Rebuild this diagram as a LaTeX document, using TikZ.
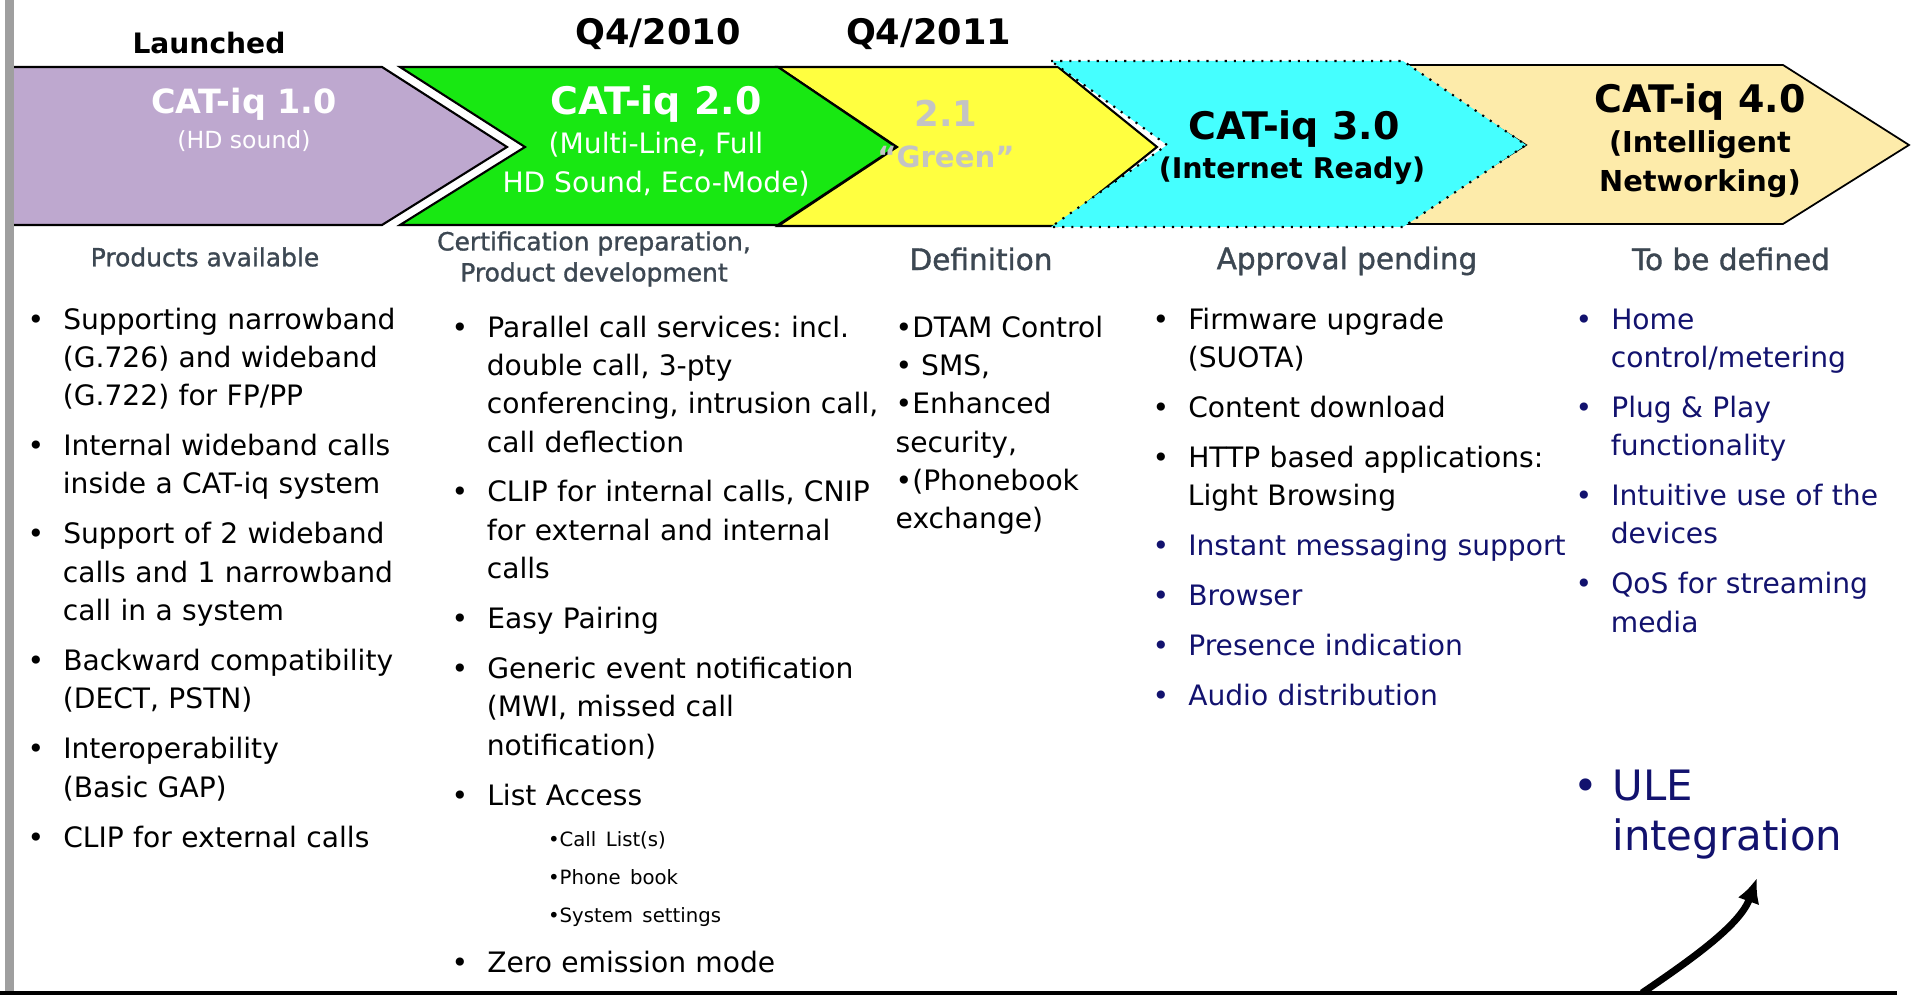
\documentclass[tikz,border=0pt]{standalone}
\usepackage{fontspec}
\setmainfont{DejaVu Sans}
\newfontfamily\headfont[FakeBold=1.2]{DejaVu Sans}
\usepackage{tikz}
\usetikzlibrary{shapes,arrows,arrows.meta}
\usetikzlibrary{positioning}
\frenchspacing
\definecolor{catpurple}{HTML}{BEA8CF}
\definecolor{catgreen}{HTML}{18E812}
\definecolor{catyellow}{HTML}{FFFF40}
\definecolor{catcyan}{HTML}{45FFFF}
\definecolor{catbeige}{HTML}{FDEBAA}
\definecolor{headgray}{HTML}{3C4752}
\definecolor{catnavy}{HTML}{12126E}
\definecolor{greengray}{HTML}{C4C4C4}
\tikzstyle{chevron} = [draw, line width=0.6pt, line join=miter]
\tikzstyle{phase} = [text=headgray, align=center, inner sep=0pt,
font=\headfont\fontsize{7.1}{8.8}\selectfont]
\tikzstyle{itemcol} = [anchor=north west, inner sep=0pt,
font=\fontsize{8}{10.9}\selectfont]
\tikzstyle{ulearrow} = [draw, -{Latex[length=7pt, width=6.5pt]}, line width=2pt]
\newenvironment{catlist}{%
  \begin{list}{\textbullet}{%
    \setlength{\topsep}{0pt}\setlength{\partopsep}{0pt}%
    \setlength{\parsep}{0pt}\setlength{\itemsep}{3.3pt}%
    \setlength{\labelwidth}{4.6pt}\setlength{\labelsep}{5.4pt}%
    \setlength{\leftmargin}{10pt}\setlength{\itemindent}{0pt}}}%
  {\end{list}}
\newcommand{\navyitem}[1]{\item[\textcolor{catnavy}{\textbullet}]\textcolor{catnavy}{#1}}
\newcommand{\subfont}{\fontsize{5.6}{7}\selectfont}

\begin{document}
\begin{tikzpicture}[x=0.01cm, y=-0.01cm,
	catnum/.style={font=\bfseries\fontsize{10.8}{13}\selectfont, inner sep=0pt},
	catsub/.style={align=center, inner sep=0pt}]
	\useasboundingbox (0,0) rectangle (1911,995);
	%% Phases
	\path [chevron, fill=catyellow] (778,67) -- (1058,67) -- (1157,147) -- (1058,226) -- (778,226) -- (897,147) -- cycle;
	\path [chevron, fill=catgreen] (400,67) -- (778,67) -- (896,147) -- (778,225) -- (400,225) -- (525,147) -- cycle;
	\path [chevron, fill=catpurple] (7,67) -- (382,67) -- (507,147) -- (382,225) -- (7,225) -- cycle;
	\path [chevron, fill=catbeige, line width=0.5pt] (1400,65) -- (1783,65) -- (1909,145) -- (1783,224) -- (1400,224) -- (1526,145) -- cycle;
	\path [chevron, fill=catcyan, dotted] (1051,61) -- (1403,61) -- (1526,145) -- (1403,227) -- (1051,227) -- (1167,145) -- cycle;
	\fill [gray!75] (5,0) rectangle (14,992);
	\fill [black] (0,991) rectangle (1897,995);
	%% Titles
	\node [catnum, text=white, font=\bfseries\fontsize{9.5}{11}\selectfont] (cat1) at (244,104) {CAT-iq 1.0};
	\node [catsub, text=white, font=\fontsize{6.7}{8}\selectfont] (cat1sub) at (244,141) {(HD sound)};
	\node [catnum, text=white] (cat2) at (656,104) {CAT-iq 2.0};
	\node [catsub, text=white, font=\fontsize{8}{11.1}\selectfont] (cat2sub) at (656,164) {(Multi-Line, Full\\HD Sound, Eco-Mode)};
	\node [catnum, text=greengray, font=\bfseries\fontsize{10.1}{12}\selectfont] (cat21) at (946,113) {2.1};
	\node [catsub, text=greengray, font=\bfseries\fontsize{8.3}{10}\selectfont] (cat21sub) at (946,157) {“Green”};
	\node [catnum] (cat3) at (1294,129) {CAT-iq 3.0};
	\node [catsub, font=\bfseries\fontsize{8.1}{10}\selectfont] (cat3sub) at (1292,171) {(Internet Ready)};
	\node [catnum] (cat4) at (1700,102) {CAT-iq 4.0};
	\node [catsub, font=\bfseries\fontsize{8.2}{11.1}\selectfont] (cat4sub) at (1700,164) {(Intelligent\\Networking)};
	%% Dates
	\node [inner sep=0pt, font=\bfseries\fontsize{8}{10}\selectfont] (launched) at (209,43) {Launched};
	\node [inner sep=0pt, font=\bfseries\fontsize{10}{12}\selectfont] (q10) at (658,34) {Q4/2010};
	\node [inner sep=0pt, font=\bfseries\fontsize{10}{12}\selectfont, right=29.6pt of q10] (q11) {Q4/2011};
	%% Status
	\node [phase] (prod) at (205,257) {Products available};
	\node [phase] (cert) at (594,259) {Certification preparation,\\Product development};
	\node [phase, font=\headfont\fontsize{8.4}{10}\selectfont] (defn) at (981,259) {Definition};
	\node [phase, font=\headfont\fontsize{8.4}{10}\selectfont] (appr) at (1347,261) {Approval pending};
	\node [phase, font=\headfont\fontsize{8.4}{10}\selectfont] (tbd) at (1731,259) {To be defined};
	%% Features
	\node [itemcol, text width=3.9cm] (col1) at (27,290) {\begin{catlist}
		\item Supporting narrowband\\(G.726) and wideband\\(G.722) for FP/PP
		\item Internal wideband calls\\inside a CAT-iq system
		\item Support of 2 wideband\\calls and 1 narrowband\\call in a system
		\item Backward compatibility\\(DECT, PSTN)
		\item Interoperability\\(Basic GAP)
		\item CLIP for external calls
	\end{catlist}};
	\node [itemcol, text width=4.4cm] (col2) at (451,298) {\begin{catlist}
		\item Parallel call services: incl.\\double call, 3-pty\\conferencing, intrusion call,\\call deflection
		\item CLIP for internal calls, CNIP\\for external and internal\\calls
		\item Easy Pairing
		\item Generic event notification\\(MWI, missed call\\notification)
		\item List Access\\[0.8pt]
		\hspace*{17.4pt}{\subfont\textbullet Call List(s)}\\
		\hspace*{17.4pt}{\subfont\textbullet Phone book}\\
		\hspace*{17.4pt}{\subfont\textbullet System settings}
		\item Zero emission mode
	\end{catlist}};
	\node [itemcol, align=left] (col3) at (895,315) {\textbullet DTAM Control\\\textbullet{} SMS,\\\textbullet Enhanced\\security,\\\textbullet(Phonebook\\exchange)};
	\node [itemcol, text width=4.3cm] (col4) at (1152,290) {\begin{catlist}
		\item Firmware upgrade\\(SUOTA)
		\item Content download
		\item HTTP based applications:\\Light Browsing
		\navyitem{Instant messaging support}
		\navyitem{Browser}
		\navyitem{Presence indication}
		\navyitem{Audio distribution}
	\end{catlist}};
	\node [itemcol, text width=3.3cm, text=catnavy] (col5) at (1575,290) {\begin{catlist}
		\item Home\\control/metering
		\item Plug \& Play\\functionality
		\item Intuitive use of the\\devices
		\item QoS for streaming\\media
	\end{catlist}};
	\node [anchor=north west, inner sep=0pt, align=left, text=catnavy,
		font=\fontsize{11.9}{14.2}\selectfont] (ule) at (1573,769) {\makebox[11pt][l]{\textbullet}ULE\\\hspace*{11pt}integration};
	%% Pointer
	\coordinate (arrfoot) at (1642,993);
	\coordinate (arrtip) at (1757,878);
	\path [ulearrow] (arrfoot) .. controls (1692,959) and (1740,925) .. (arrtip);
\end{tikzpicture}
\end{document}
